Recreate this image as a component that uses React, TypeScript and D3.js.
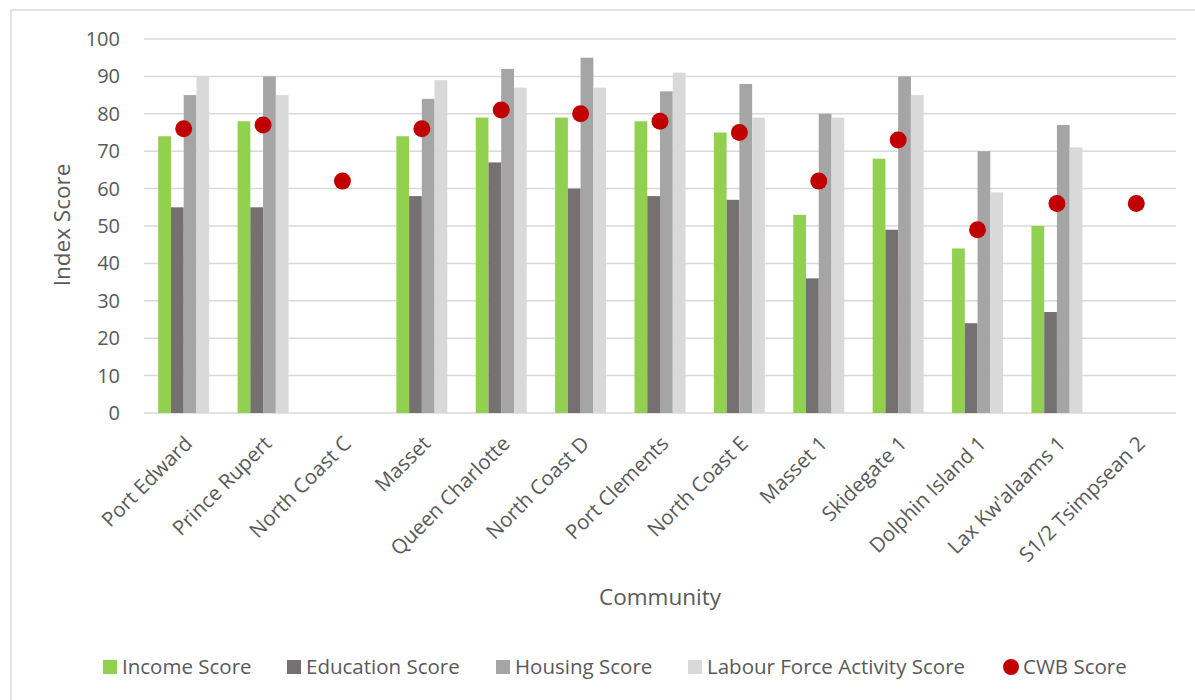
import React from "react";
import * as d3 from "d3";

const categories = [
  "Port Edward", "Prince Rupert", "North Coast C", "Masset", "Queen Charlotte",
  "North Coast D", "Port Clements", "North Coast E", "Masset 1", "Skidegate 1",
  "Dolphin Island 1", "Lax Kw'alaams 1", "S1/2 Tsimpsean 2",
];
const incomeScore = [74, 78, null, 74, 79, 79, 78, 75, 53, 68, 44, 50, null];
const educationScore = [55, 55, null, 58, 67, 60, 58, 57, 36, 49, 24, 27, null];
const housingScore = [85, 90, null, 84, 92, 95, 86, 88, 80, 90, 70, 77, null];
const labourScore = [90, 85, null, 89, 87, 87, 91, 79, 79, 85, 59, 71, null];
const cwbScore = [76, 77, 62, 76, 81, 80, 78, 75, 62, 73, 49, 56, 56];
const yTicks = [0, 10, 20, 30, 40, 50, 60, 70, 80, 90, 100];

const seriesNames = ["Income Score", "Education Score", "Housing Score", "Labour Force Activity Score"];
const seriesValues = [incomeScore, educationScore, housingScore, labourScore];
const seriesColors = ["#92D050", "#767171", "#A5A5A5", "#D9D9D9"];
const cwbName = "CWB Score";
const cwbColor = "#C00000";

const FONT = "'Open Sans', sans-serif";
const TEXT = "#595959";

export default function App() {
  const W = 1195, H = 700;
  const left = 144, right = 1176, top = 39, bottom = 413;
  const x0 = d3.scaleBand<string>().domain(categories).range([left, right]).padding(0);
  const groupW = x0.bandwidth() * 0.642;
  const x1 = d3.scaleBand<string>().domain(seriesNames).range([0, groupW]).padding(0);
  const y = d3.scaleLinear().domain([0, 100]).range([bottom, top]);

  const legendItems = [
    { name: seriesNames[0], color: seriesColors[0], x: 103, shape: "rect" },
    { name: seriesNames[1], color: seriesColors[1], x: 287, shape: "rect" },
    { name: seriesNames[2], color: seriesColors[2], x: 496, shape: "rect" },
    { name: seriesNames[3], color: seriesColors[3], x: 688, shape: "rect" },
    { name: cwbName, color: cwbColor, x: 1004, shape: "circle" },
  ];

  return (
    <svg width={W} height={H} style={{ display: "block", position: "absolute", left: 0, top: 0 }} fontFamily={FONT}>
      <rect x={0} y={0} width={W} height={H} fill="#fff" />
      <rect x={11} y={10} width={W} height={H} fill="none" stroke="#D9D9D9" strokeWidth={1.5} />
      {yTicks.map((t) => (
        <g key={t}>
          <line x1={left} x2={right} y1={y(t)} y2={y(t)} stroke="#D9D9D9" strokeWidth={1.5} />
          <text x={120} y={y(t)} dy="0.35em" textAnchor="end" fontSize={20} fill={TEXT}>{t}</text>
        </g>
      ))}
      {categories.map((c, i) => (
        <g key={c} transform={`translate(${x0(c)! + (x0.bandwidth() - groupW) / 2},0)`}>
          {seriesNames.map((s, k) => {
            const v = seriesValues[k][i];
            if (v == null) return null;
            return (
              <rect key={s} x={x1(s)!} width={x1.bandwidth()} y={y(v)} height={y(0) - y(v)} fill={seriesColors[k]} />
            );
          })}
        </g>
      ))}
      {categories.map((c, i) => (
        <circle key={c} cx={x0(c)! + x0.bandwidth() / 2} cy={y(cwbScore[i])} r={8.5} fill={cwbColor} />
      ))}
      {categories.map((c) => (
        <text key={c} transform={`translate(${x0(c)! + x0.bandwidth() / 2 - 1},434) rotate(-45)`} dy="0.75em"
          textAnchor="end" fontSize={20.5} fill={TEXT}>{c}</text>
      ))}
      <text transform={`translate(70,225) rotate(-90)`} textAnchor="middle" fontSize={22.5} fill={TEXT}>Index Score</text>
      <text x={(left + right) / 2} y={605} textAnchor="middle" fontSize={22.5} fill={TEXT}>Community</text>
      {legendItems.map((it) => (
        <g key={it.name}>
          {it.shape === "rect" ? (
            <rect x={it.x} y={660} width={14} height={14} fill={it.color} />
          ) : (
            <circle cx={it.x + 7} cy={667} r={8} fill={it.color} />
          )}
          <text x={it.x + 19} y={674} fontSize={20.5} fill={TEXT}>{it.name}</text>
        </g>
      ))}
    </svg>
  );
}
